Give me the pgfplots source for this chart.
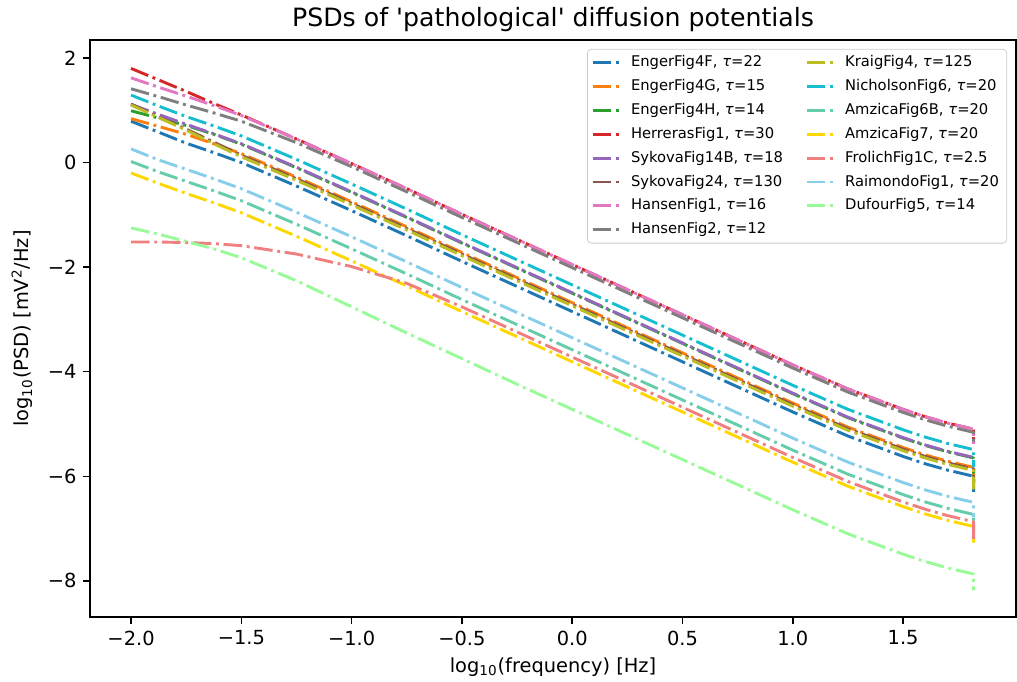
\documentclass[border=0pt]{standalone}
\usepackage{fontspec}
\setmainfont{DejaVu Sans}
\usepackage{pgfplots}
\pgfplotsset{compat=1.18}
\usepackage{pgfplotstable}
\definecolor{c1}{HTML}{1F77B4}
\definecolor{c2}{HTML}{FF7F0E}
\definecolor{c3}{HTML}{2CA02C}
\definecolor{c4}{HTML}{D62728}
\definecolor{c5}{HTML}{9467BD}
\definecolor{c6}{HTML}{8C564B}
\definecolor{c7}{HTML}{E377C2}
\definecolor{c8}{HTML}{7F7F7F}
\definecolor{c9}{HTML}{BCBD22}
\definecolor{c10}{HTML}{17BECF}
\definecolor{c11}{HTML}{66CDAA}
\definecolor{c12}{HTML}{FFD700}
\definecolor{c13}{HTML}{F08080}
\definecolor{c14}{HTML}{87CEEB}
\definecolor{c15}{HTML}{98FB98}
\tikzset{ld/.style={line width=1.5pt, dash pattern=on 9.6pt off 2.4pt on 1.5pt off 2.4pt, line join=round}}
\pgfplotstableread{
x      eF    eG    eH    her   sA    sB    hA    hB    kr    ni    aA    aB    fr    ra    du
-2     0.79  0.84  0.99  1.80  1.11  1.12  1.62  1.41  1.10  1.29  0.02  -0.20 -1.52 0.26  -1.25
-1.875 0.58  0.69  0.85  1.58  0.92  0.87  1.44  1.26  0.86  1.08  -0.18 -0.40 -1.52 0.05  -1.37
-1.75  0.37  0.54  0.71  1.36  0.73  0.64  1.27  1.10  0.62  0.88  -0.36 -0.59 -1.53 -0.13 -1.51
-1.625 0.19  0.36  0.54  1.13  0.55  0.39  1.09  0.95  0.36  0.70  -0.54 -0.77 -1.55 -0.31 -1.65
-1.5   0.00  0.17  0.35  0.91  0.36  0.14  0.90  0.79  0.11  0.51  -0.73 -0.96 -1.59 -0.50 -1.82
-1.25  -0.45 -0.28 -0.10 0.45  -0.09 -0.31 0.45  0.38  -0.34 0.06  -1.18 -1.41 -1.75 -0.95 -2.26
-1     -0.92 -0.75 -0.57 -0.02 -0.56 -0.78 -0.02 -0.08 -0.81 -0.41 -1.65 -1.88 -1.99 -1.42 -2.76
-0.75  -1.40 -1.23 -1.05 -0.50 -1.04 -1.26 -0.50 -0.56 -1.29 -0.89 -2.13 -2.36 -2.31 -1.90 -3.26
-0.5   -1.89 -1.72 -1.54 -0.99 -1.53 -1.75 -0.99 -1.05 -1.78 -1.38 -2.62 -2.85 -2.76 -2.39 -3.75
-0.25  -2.37 -2.20 -2.02 -1.47 -2.01 -2.23 -1.47 -1.53 -2.26 -1.86 -3.10 -3.33 -3.24 -2.87 -4.24
0      -2.85 -2.68 -2.50 -1.95 -2.49 -2.71 -1.95 -2.01 -2.74 -2.34 -3.58 -3.81 -3.72 -3.35 -4.72
0.25   -3.33 -3.16 -2.98 -2.43 -2.97 -3.19 -2.43 -2.49 -3.22 -2.82 -4.06 -4.29 -4.20 -3.83 -5.20
0.5    -3.81 -3.64 -3.46 -2.91 -3.45 -3.67 -2.91 -2.97 -3.70 -3.30 -4.54 -4.77 -4.68 -4.31 -5.68
0.75   -4.29 -4.12 -3.94 -3.39 -3.93 -4.15 -3.39 -3.45 -4.18 -3.78 -5.02 -5.25 -5.16 -4.79 -6.16
1.0    -4.77 -4.60 -4.42 -3.87 -4.41 -4.63 -3.87 -3.93 -4.66 -4.26 -5.50 -5.73 -5.64 -5.27 -6.64
1.25   -5.23 -5.06 -4.88 -4.33 -4.87 -5.09 -4.33 -4.39 -5.12 -4.72 -5.96 -6.19 -6.10 -5.73 -7.10
1.5    -5.62 -5.45 -5.27 -4.72 -5.26 -5.48 -4.72 -4.78 -5.51 -5.11 -6.35 -6.58 -6.49 -6.12 -7.49
1.6    -5.76 -5.59 -5.41 -4.86 -5.40 -5.62 -4.86 -4.92 -5.65 -5.25 -6.49 -6.72 -6.63 -6.26 -7.63
1.7    -5.88 -5.71 -5.53 -4.98 -5.52 -5.74 -4.98 -5.04 -5.77 -5.37 -6.61 -6.84 -6.75 -6.38 -7.75
1.77   -5.95 -5.78 -5.60 -5.05 -5.59 -5.81 -5.05 -5.11 -5.84 -5.44 -6.68 -6.91 -6.82 -6.45 -7.82
1.82   -6.00 -5.83 -5.65 -5.10 -5.64 -5.86 -5.10 -5.16 -5.89 -5.49 -6.73 -6.96 -6.87 -6.50 -7.87
1.82   -6.30 -6.12 -5.95 -5.30 -5.92 -6.18 -5.38 -5.42 -6.25 -5.82 -7.02 -7.27 -7.20 -6.78 -8.18
}\psd
\begin{document}
\begin{tikzpicture}
\begin{axis}[
  at={(0pt,0pt)}, anchor=south west,
  scale only axis, width=477.3pt, height=297.4pt,
  xmin=-2.186, xmax=2.012, ymin=-8.69, ymax=2.344,
  xtick={-2,-1.5,-1,-0.5,0,0.5,1,1.5},
  xticklabels={−2.0,−1.5,−1.0,−0.5,0.0,0.5,1.0,1.5},
  ytick={-8,-6,-4,-2,0,2},
  yticklabels={−8,−6,−4,−2,0,2},
  tick align=outside, xtick pos=left, ytick pos=left,
  major tick length=3.5pt,
  every tick/.style={black, line width=0.8pt},
  axis line style={line width=0.8pt},
  ticklabel style={font=\fontsize{10}{12}\selectfont},
  label style={font=\fontsize{10}{12}\selectfont},
  xlabel={log\textsubscript{10}(frequency) [Hz]},
  ylabel={log\textsubscript{10}(PSD) [mV\textsuperscript{2}/Hz]},
  xlabel style={at={(axis description cs:0.5,-0.087)}, anchor=center},
  ylabel style={at={(axis description cs:-0.0733,0.5)}, anchor=center},
  every axis title shift=0pt,
  title={PSDs of \textquotesingle pathological\textquotesingle{} diffusion potentials},
  title style={at={(axis description cs:0.5,1.036)}, anchor=center, font=\fontsize{13}{15.6}\selectfont},
  legend columns=2,
  legend cell align=left,
  legend style={at={(axis description cs:0.9904,0.9845)}, anchor=north east,
    draw=black!20, rounded corners=2pt, fill=white, fill opacity=0.8, text opacity=1,
    font=\fontsize{7.6}{9.2}\selectfont, inner xsep=2pt, inner ysep=2pt, row sep=2.5pt,
    nodes={text height=6pt, text depth=1.8pt, inner ysep=1pt, inner xsep=2pt},
    /tikz/every even column/.append style={column sep=9.5pt}},
  legend image code/.code={\draw[#1] (0pt,0pt) -- (15pt,0pt); \path (17pt,0pt);},
  no markers,
]
\addplot[c1, ld, forget plot] table[x=x, y=eF] {\psd};
\addplot[c2, ld, forget plot] table[x=x, y=eG] {\psd};
\addplot[c3, ld, forget plot] table[x=x, y=eH] {\psd};
\addplot[c4, ld, forget plot] table[x=x, y=her] {\psd};
\addplot[c5, ld, forget plot] table[x=x, y=sA] {\psd};
\addplot[c6, ld, forget plot] table[x=x, y=sB] {\psd};
\addplot[c7, ld, forget plot] table[x=x, y=hA] {\psd};
\addplot[c8, ld, forget plot] table[x=x, y=hB] {\psd};
\addplot[c9, ld, forget plot] table[x=x, y=kr] {\psd};
\addplot[c10, ld, forget plot] table[x=x, y=ni] {\psd};
\addplot[c11, ld, forget plot] table[x=x, y=aA] {\psd};
\addplot[c12, ld, forget plot] table[x=x, y=aB] {\psd};
\addplot[c13, ld, forget plot] table[x=x, y=fr] {\psd};
\addplot[c14, ld, forget plot] table[x=x, y=ra] {\psd};
\addplot[c15, ld, forget plot] table[x=x, y=du] {\psd};
\addlegendimage{c1, ld}\addlegendentry{EngerFig4F, \textit{τ}=22}
\addlegendimage{c9, ld}\addlegendentry{KraigFig4, \textit{τ}=125}
\addlegendimage{c2, ld}\addlegendentry{EngerFig4G, \textit{τ}=15}
\addlegendimage{c10, ld}\addlegendentry{NicholsonFig6, \textit{τ}=20}
\addlegendimage{c3, ld}\addlegendentry{EngerFig4H, \textit{τ}=14}
\addlegendimage{c11, ld}\addlegendentry{AmzicaFig6B, \textit{τ}=20}
\addlegendimage{c4, ld}\addlegendentry{HerrerasFig1, \textit{τ}=30}
\addlegendimage{c12, ld}\addlegendentry{AmzicaFig7, \textit{τ}=20}
\addlegendimage{c5, ld}\addlegendentry{SykovaFig14B, \textit{τ}=18}
\addlegendimage{c13, ld}\addlegendentry{FrolichFig1C, \textit{τ}=2.5}
\addlegendimage{c6, ld}\addlegendentry{SykovaFig24, \textit{τ}=130}
\addlegendimage{c14, ld}\addlegendentry{RaimondoFig1, \textit{τ}=20}
\addlegendimage{c7, ld}\addlegendentry{HansenFig1, \textit{τ}=16}
\addlegendimage{c15, ld}\addlegendentry{DufourFig5, \textit{τ}=14}
\addlegendimage{c8, ld}\addlegendentry{HansenFig2, \textit{τ}=12}
\end{axis}
\pgfresetboundingbox
\path[use as bounding box] (-46.4pt,-33.5pt) rectangle (477.8pt,318.0pt);
\end{tikzpicture}
\end{document}
